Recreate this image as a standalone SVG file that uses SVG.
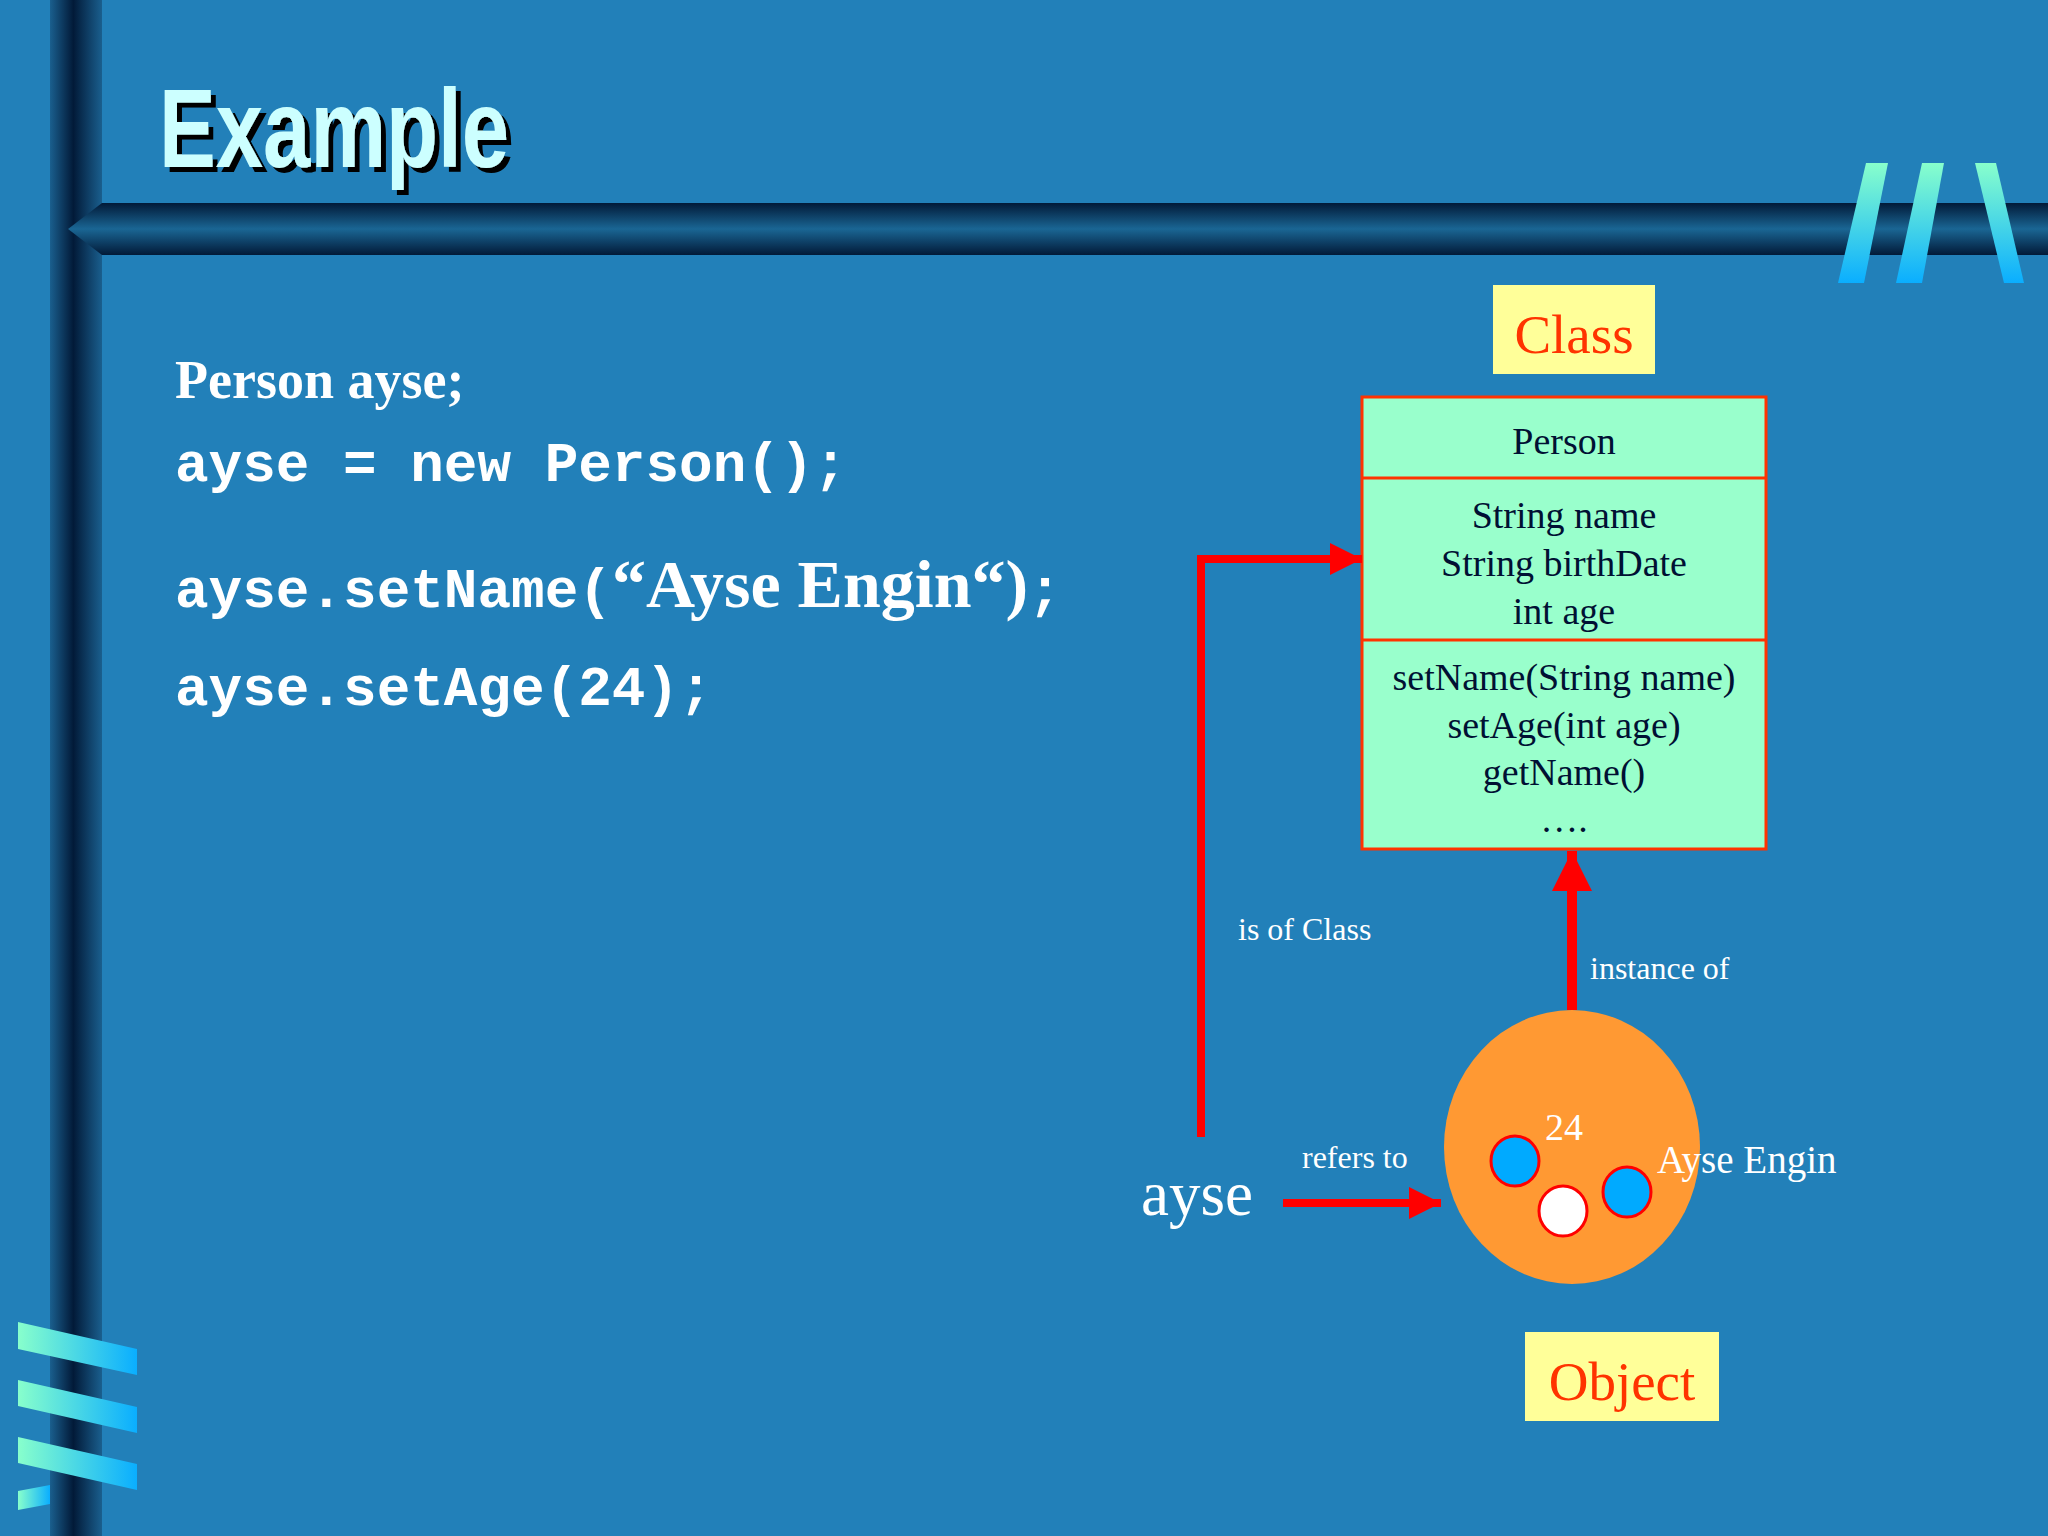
<svg xmlns="http://www.w3.org/2000/svg" width="2048" height="1536" viewBox="0 0 2048 1536">
<defs>
<linearGradient id="vbar" x1="0" y1="0" x2="1" y2="0"><stop offset="0" stop-color="#1a5f8e"/><stop offset="0.45" stop-color="#021a38"/><stop offset="1" stop-color="#1a5f8e"/></linearGradient>
<linearGradient id="hbar" x1="0" y1="0" x2="0" y2="1"><stop offset="0" stop-color="#021a38"/><stop offset="0.5" stop-color="#1a6694"/><stop offset="1" stop-color="#021a38"/></linearGradient>
<linearGradient id="rib" x1="0" y1="0" x2="1" y2="0"><stop offset="0" stop-color="#88ffcc"/><stop offset="1" stop-color="#0aaeff"/></linearGradient>
<linearGradient id="ribv" x1="0" y1="0" x2="0" y2="1"><stop offset="0" stop-color="#88ffcc"/><stop offset="1" stop-color="#0aaeff"/></linearGradient>
<filter id="sh" x="-10%" y="-10%" width="130%" height="130%"><feDropShadow dx="5" dy="5" stdDeviation="0" flood-color="#000"/></filter>
<marker id="ah" markerWidth="4" markerHeight="4" refX="4" refY="2" orient="auto" markerUnits="strokeWidth"><path d="M0,0 L4,2 L0,4 Z" fill="#ff0000"/></marker>
</defs>
<style>
.w{fill:#fff;font-family:"Liberation Serif",serif}
.c{fill:#fff;font-family:"Liberation Mono",monospace;font-weight:bold;font-size:56px}
.b{fill:#001033;font-family:"Liberation Serif",serif;font-size:38px;text-anchor:middle}
.r{fill:#ff3300;font-family:"Liberation Serif",serif;font-size:55px;text-anchor:middle}
.ln{stroke:#ff0000;fill:none}
</style>
<rect width="2048" height="1536" fill="#2280b9"/>
<g id="decor">
<rect x="50" y="0" width="52" height="1536" fill="url(#vbar)"/>
<path d="M102,203 L2048,203 L2048,255 L102,255 L68,229 Z" fill="url(#hbar)"/>
<g fill="url(#ribv)">
<path d="M1866,163 L1888,163 L1864,283 L1838,283 Z"/>
<path d="M1922,163 L1944,163 L1922,283 L1896,283 Z"/>
<path d="M1975,163 L1996,163 L2024,283 L2004,283 Z"/>
</g>
<g fill="url(#rib)">
<path d="M18,1322 L137,1349 L137,1375 L18,1349 Z"/>
<path d="M18,1380 L137,1407 L137,1433 L18,1406 Z"/>
<path d="M18,1437 L137,1464 L137,1490 L18,1463 Z"/>
<path d="M18,1491 L50,1485 L50,1504 L18,1510 Z"/>
</g>
</g>
<g id="title">
<text x="159" y="167" font-family="Liberation Sans,sans-serif" font-weight="bold" font-size="112" textLength="350" lengthAdjust="spacingAndGlyphs" fill="#ccffff" filter="url(#sh)">Example</text>
</g>
<g id="code">
<text x="175" y="398" class="w" font-weight="bold" font-size="54">Person ayse;</text>
<text x="175" y="481" class="c">ayse = new Person();</text>
<text x="175" y="607" class="c">ayse.setName(<tspan font-family="Liberation Serif,serif" font-size="68">“Ayse Engin“)</tspan>;</text>
<text x="175" y="705" class="c">ayse.setAge(24);</text>
</g>
<g id="classLabel">
<rect x="1493" y="285" width="162" height="89" fill="#ffff99"/>
<text x="1574" y="353" class="r">Class</text>
</g>
<g id="personClass">
<rect x="1362" y="397" width="404" height="452" fill="#99ffcc" stroke="#ff3300" stroke-width="3"/>
<line x1="1362" y1="478" x2="1766" y2="478" stroke="#ff3300" stroke-width="3"/>
<line x1="1362" y1="640" x2="1766" y2="640" stroke="#ff3300" stroke-width="3"/>
<text x="1564" y="454" class="b">Person</text>
<text x="1564" y="528" class="b">String name</text>
<text x="1564" y="576" class="b">String birthDate</text>
<text x="1564" y="624" class="b">int age</text>
<text x="1564" y="690" class="b">setName(String name)</text>
<text x="1564" y="738" class="b">setAge(int age)</text>
<text x="1564" y="785" class="b">getName()</text>
<text x="1564" y="832" class="b">….</text>
</g>
<g id="object">
<ellipse cx="1572" cy="1147" rx="128" ry="137" fill="#ff9933"/>
<ellipse cx="1515" cy="1161" rx="24" ry="25" fill="#00aaff" stroke="#ff0000" stroke-width="3"/>
<ellipse cx="1563" cy="1211" rx="24" ry="25" fill="#ffffff" stroke="#ff0000" stroke-width="3"/>
<ellipse cx="1627" cy="1192" rx="24" ry="25" fill="#00aaff" stroke="#ff0000" stroke-width="3"/>
<text x="1564" y="1140" class="w" font-size="38" text-anchor="middle">24</text>
<text x="1657" y="1173" class="w" font-size="39">Ayse Engin</text>
</g>
<g id="objectLabel">
<rect x="1525" y="1332" width="194" height="89" fill="#ffff99"/>
<text x="1622" y="1400" class="r">Object</text>
</g>
<g id="ayseVar">
<text x="1141" y="1215" class="w" font-size="63">ayse</text>
</g>
<g id="connectors">
<path class="ln" d="M1201,1137 L1201,559 L1362,559" stroke-width="8" marker-end="url(#ah)"/>
<path class="ln" d="M1572,1010 L1572,851" stroke-width="10" marker-end="url(#ah)"/>
<path class="ln" d="M1283,1203 L1441,1203" stroke-width="8" marker-end="url(#ah)"/>
<text x="1238" y="940" class="w" font-size="32">is of Class</text>
<text x="1590" y="979" class="w" font-size="32">instance of</text>
<text x="1302" y="1168" class="w" font-size="32">refers to</text>
</g>
</svg>
